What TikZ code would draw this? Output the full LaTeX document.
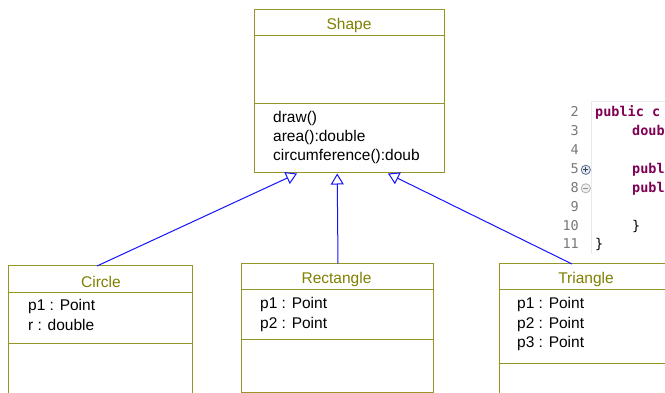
\documentclass[tikz,border=0pt]{standalone}
\usepackage{fontspec}
\setmainfont{Liberation Sans}
\newfontfamily\codefont{DejaVu Sans Mono}
\usetikzlibrary{arrows.meta}
\definecolor{umlline}{RGB}{150,150,40}
\definecolor{umltitle}{RGB}{128,128,0}
\definecolor{keyword}{RGB}{127,0,85}
\definecolor{linenum}{RGB}{120,120,120}
\definecolor{gutter}{RGB}{230,234,240}
\definecolor{foldblue}{RGB}{90,110,150}
\definecolor{umlblue}{RGB}{20,20,255}
\tikzset{
	umlbox/.style={draw=umlline, line width=1pt},
	classname/.style={text=umltitle, font=\fontsize{15.5}{19}\selectfont},
	member/.style={anchor=base west, inner sep=0pt, font=\fontsize{15.5}{19}\selectfont},
	inherit/.style={draw=umlblue, line width=1pt, -{Triangle[open, length=11pt, width=13pt]}},
	lineno/.style={anchor=base east, inner sep=0pt, text=linenum, font=\codefont\fontsize{13.5}{19}\selectfont},
	codekw/.style={anchor=base west, inner sep=0pt, text=keyword, font=\codefont\bfseries\fontsize{13.5}{19}\selectfont},
	codeplain/.style={anchor=base west, inner sep=0pt, text=black, font=\codefont\fontsize{13.5}{19}\selectfont},
	foldicon/.style={draw=foldblue, line width=0.8pt, fill=foldblue!15},
}
\begin{document}
\begin{tikzpicture}[x=1pt, y=-1pt]
		\clip (0,0) rectangle (665,393);
		\fill[white] (0,0) rectangle (665,393);

		% Shape
		\draw[umlbox] (254,10) rectangle (444,173);
		\draw[umlbox] (254,36) -- (444,36);
		\draw[umlbox] (254,104) -- (444,104);
		\node[classname] (shape) at (349,25.5) {Shape};
		\node[member] (shapeOp1) at (273,122.5) {draw()};
		\node[member] (shapeOp2) at (273,141.5) {area():double};
		\node[member] (shapeOp3) at (273,160.5) {circumference():doub};

		% Circle
		\draw[umlbox] (8.5,266) rectangle (192.5,420);
		\draw[umlbox] (8.5,293) -- (192.5,293);
		\draw[umlbox] (8.5,343) -- (192.5,343);
		\node[classname] (circle) at (101,281.5) {Circle};
		\node[member] (circleAt1) at (28,311) {p1 : Point};
		\node[member] (circleAt2) at (28,330.5) {r : double};

		% Rectangle
		\draw[umlbox] (241,263.5) rectangle (433,392);
		\draw[umlbox] (241,290) -- (433,290);
		\draw[umlbox] (241,339.5) -- (433,339.5);
		\node[classname] (rectangle) at (336.5,279) {Rectangle};
		\node[member] (rectangleAt1) at (260,308.5) {p1 : Point};
		\node[member] (rectangleAt2) at (260,328.5) {p2 : Point};

		% Triangle
		\draw[umlbox] (499,264) rectangle (672,420);
		\draw[umlbox] (499,290) -- (672,290);
		\draw[umlbox] (499,363.5) -- (672,363.5);
		\node[classname] (triangle) at (586,279) {Triangle};
		\node[member] (triangleAt1) at (517,308.5) {p1 : Point};
		\node[member] (triangleAt2) at (517,328) {p2 : Point};
		\node[member] (triangleAt3) at (517,347.5) {p3 : Point};

		% Generalisation
		\coordinate (shapeL) at (297,173.5);
		\coordinate (shapeM) at (337.2,173.5);
		\coordinate (shapeR) at (388,173.5);
		\coordinate (circleTop) at (97,266);
		\coordinate (rectangleTop) at (338,263.5);
		\coordinate (triangleTop) at (572,264);
		\draw[inherit] (circleTop) -- (shapeL);
		\draw[inherit] (rectangleTop) -- (shapeM);
		\draw[inherit] (triangleTop) -- (shapeR);

		% Editor snippet
		\draw[gutter] (591.5,101) -- (591.5,254);
		\draw[gutter] (591.5,101) -- (665,101);
		\foreach \n/\y in {2/117, 3/136, 4/155, 5/174, 8/192.5, 9/211.5, 10/230.5, 11/249} {
			\node[lineno] (ln\n) at (579,\y) {\n};
		}
		\draw[foldicon] (585.8,169.8) circle (4.6pt);
		\draw[line width=1pt, foldblue!60!black] (583.3,169.8) -- (588.3,169.8) (585.8,167.3) -- (585.8,172.3);
		\draw[foldicon, draw=black!30, fill=black!6] (585.8,188.3) circle (4.6pt);
		\draw[line width=1pt, black!45] (583.3,188.3) -- (588.3,188.3);
		\node[codekw] (code2) at (595,117) {public c};
		\node[codekw] (code3) at (632,136) {doub};
		\node[codekw] (code5) at (632,174) {publ};
		\node[codekw] (code8) at (632,192.5) {publ};
		\node[codeplain] (code10) at (632,230.5) {\}};
		\node[codeplain] (code11) at (595,249) {\}};
	\end{tikzpicture}
\end{document}
